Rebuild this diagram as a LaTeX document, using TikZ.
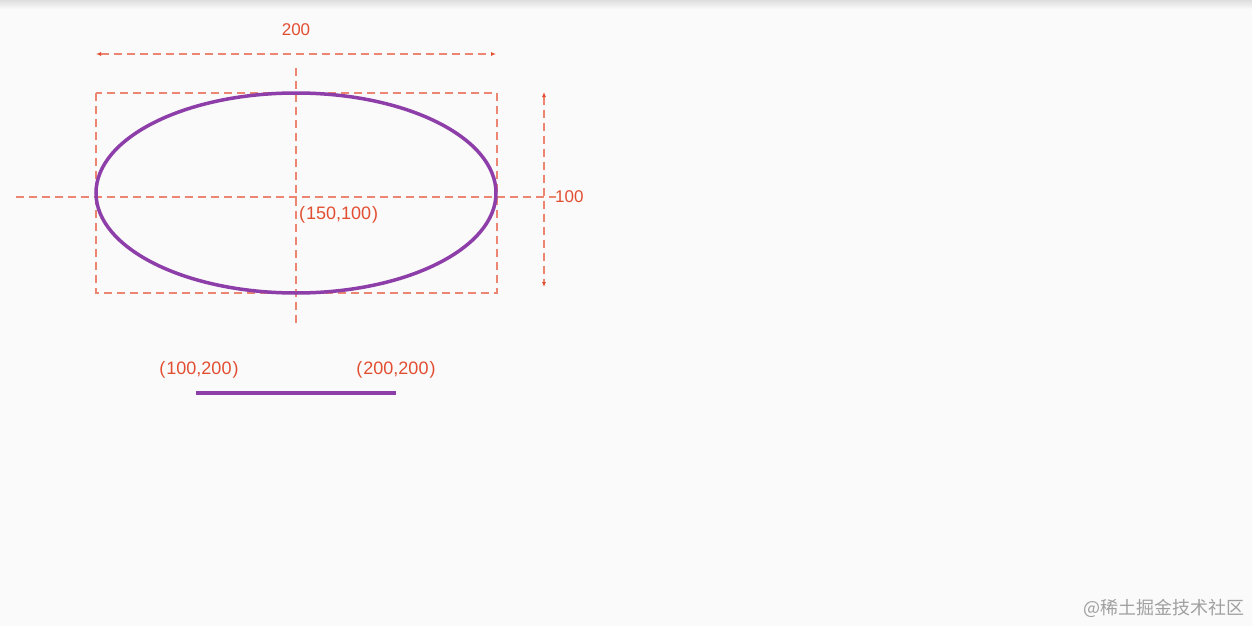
\documentclass[tikz,border=0pt]{standalone}
\usepackage{fontspec}
\setmainfont{Liberation Sans}
\newfontfamily\cjk{Noto Sans CJK SC}
\usepackage{tikz}
\usetikzlibrary{arrows.meta, positioning}
\definecolor{guide}{RGB}{236,134,114}
\definecolor{mark}{RGB}{226,78,50}
\definecolor{curve}{RGB}{142,62,168}
\definecolor{paper}{RGB}{250,250,250}
\definecolor{stamp}{RGB}{160,160,160}

\begin{document}
\begin{tikzpicture}[x=1pt, y=-1pt, every node/.style={font=\fontsize{17}{20}\selectfont, text=mark, inner sep=0pt}]

% Styles
\tikzstyle{guideline} = [draw=guide, line width=1.3pt, dash pattern=on 8pt off 5pt]
\tikzstyle{dimarrow} = [guideline, {Latex[length=5pt,width=4pt,color=mark]}-{Latex[length=5pt,width=4pt,color=mark]}]
\tikzstyle{purpleline} = [draw=curve, line width=3.5pt]
\tikzstyle{coordlabel} = [font=\fontsize{18}{21}\selectfont]

% Page
\fill[paper] (0,0) rectangle (1252,626);
\shade[top color=black!13, bottom color=paper] (0,0) rectangle (1252,9);
\useasboundingbox (0,0) rectangle (1252,626);

% Points
\coordinate (center) at (296,193);
\coordinate (boxtl) at (96,93);
\coordinate (boxbr) at (497,293);
\coordinate (axisl) at (16,197);
\coordinate (axisr) at (556,197);
\coordinate (axist) at (296,68);
\coordinate (axisb) at (296,327);
\coordinate (widthl) at (96,54);
\coordinate (widthr) at (496,54);
\coordinate (heightt) at (544,92);
\coordinate (heightb) at (544,287);
\coordinate (linel) at (196,393);
\coordinate (liner) at (396,393);

% Guides
\draw[guideline] (boxtl) rectangle (boxbr);
\draw[guideline] (axisl) -- (axisr);
\draw[guideline] (axist) -- (axisb);
\draw[dimarrow] (widthl) -- (widthr);
\draw[dimarrow] (heightt) -- (heightb);

% Shapes
\draw[purpleline] (center) ellipse [x radius=200pt, y radius=100pt];
\draw[purpleline] (linel) -- (liner);

% Labels
\node (widthlabel) at (296,30) {200};
\node[anchor=west] (heightlabel) at (555,197) {100};
\node[coordlabel, anchor=west] (centerlabel) at (299,215) {(\kern1pt150,100\kern1pt)};
\node[coordlabel] (leftlabel) at (199,370) {(\kern1pt100,200\kern1pt)};
\node[coordlabel] (rightlabel) at (396,370) {(\kern1pt200,200\kern1pt)};
\node[anchor=east, text=stamp, font=\cjk\fontsize{18}{21}\selectfont] (stamp) at (1245,608) {@稀土掘金技术社区};

\end{tikzpicture}
\end{document}
